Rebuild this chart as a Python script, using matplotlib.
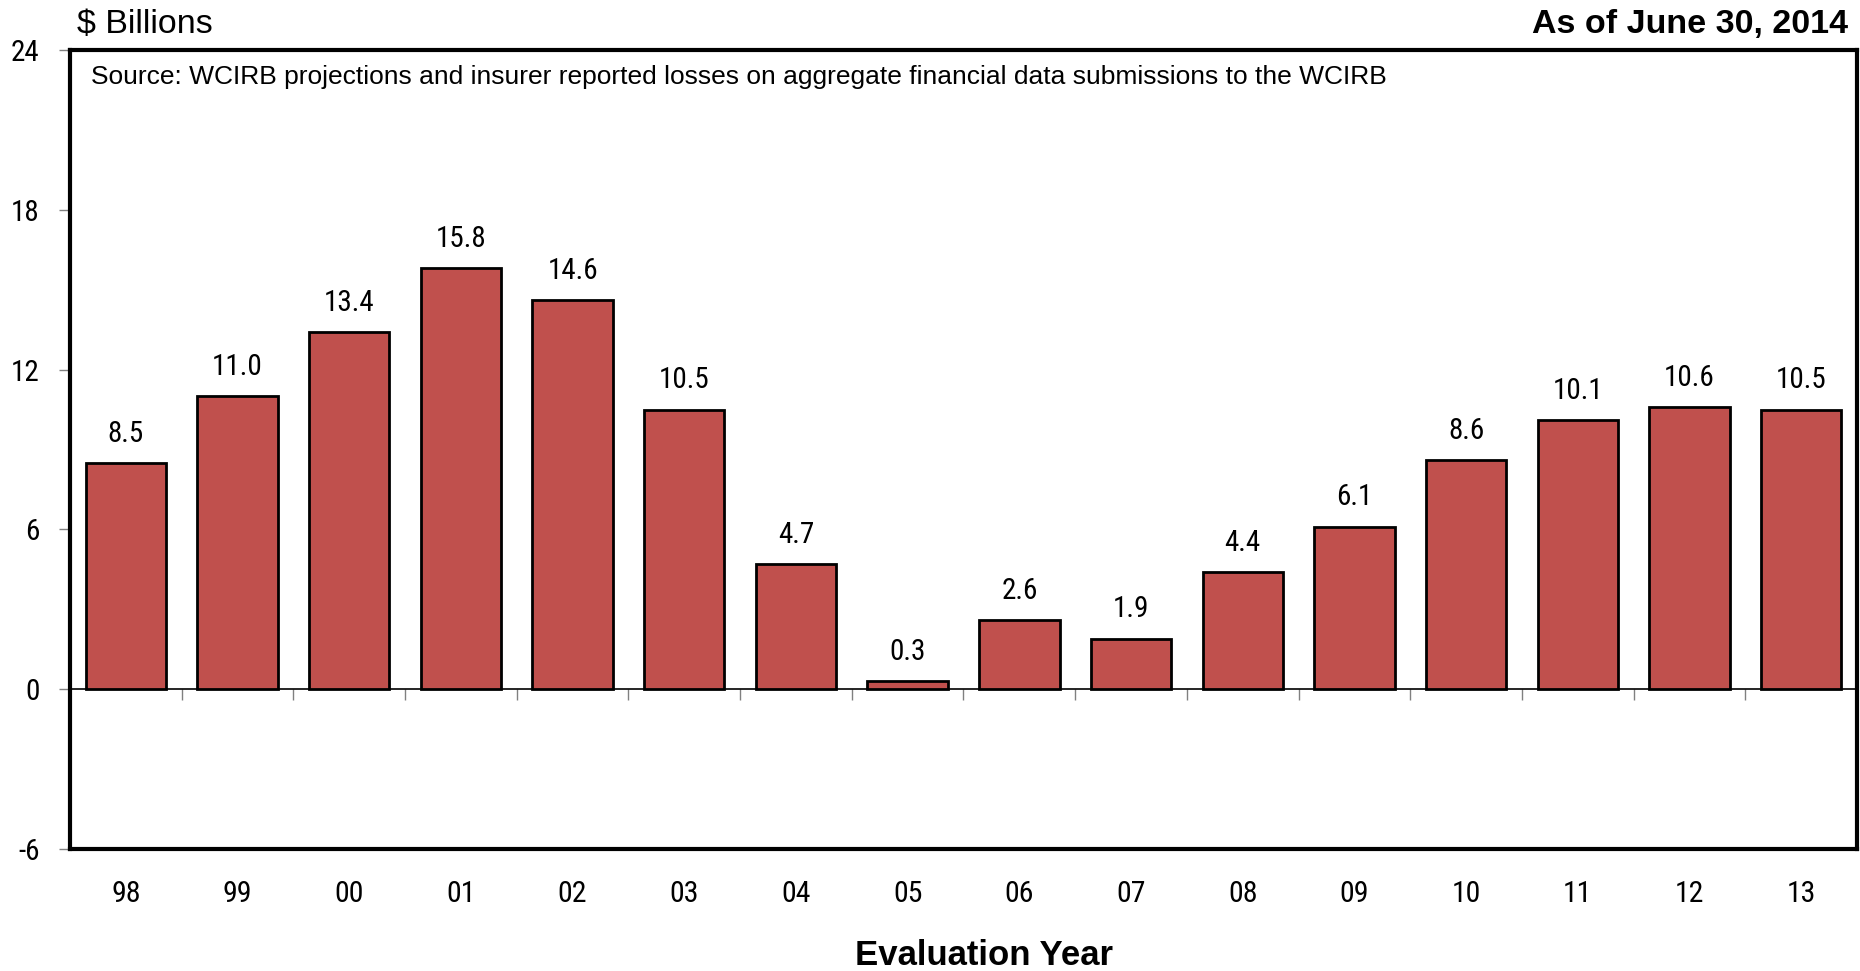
import matplotlib
matplotlib.use("Agg")
from matplotlib import pyplot as plt
from matplotlib import font_manager

# данные
years = ['98', '99', '00', '01', '02', '03', '04', '05',
         '06', '07', '08', '09', '10', '11', '12', '13']
losses = [8.5, 11.0, 13.4, 15.8, 14.6, 10.5, 4.7, 0.3,
          2.6, 1.9, 4.4, 6.1, 8.6, 10.1, 10.6, 10.5]
y_ticks = [-6, 0, 6, 12, 18, 24]

BAR_COLOR = '#C0504D'

# узкий шрифт для чисел, если найдётся
names = {f.name for f in font_manager.fontManager.ttflist}
narrow = ['DejaVu Sans']
for n in ['Liberation Sans Narrow', 'Roboto Condensed', 'Open Sans Condensed']:
    if n in names:
        narrow = [n, 'DejaVu Sans']
        break
num_font = dict(family=narrow, stretch='condensed')

plt.rcParams['font.family'] = ['Liberation Sans', 'DejaVu Sans']

fig = plt.figure(figsize=(18.6, 9.71), dpi=100)
ax = fig.add_axes([70 / 1860, 1 - 849 / 971, 1787 / 1860, 799 / 971])

x = list(range(len(years)))
ax.bar(x, losses, width=0.72, color=BAR_COLOR, edgecolor='black', linewidth=2.0, zorder=3)

for xi, v in zip(x, losses):
    ax.annotate(f'{v:.1f}', (xi, v), xytext=(0, 11), textcoords='offset points',
                ha='center', va='bottom', fontsize=21, **num_font)

ax.set_xlim(-0.5, len(years) - 0.5)
ax.set_ylim(-6, 24)
ax.set_yticks(y_ticks)
ax.set_yticklabels([str(t) for t in y_ticks], fontsize=21, **num_font)
ax.set_xticks(x)
ax.set_xticklabels(years, fontsize=21.5, **num_font)
ax.tick_params(axis='y', direction='out', length=8, width=1, color='#808080', pad=14)
ax.tick_params(axis='x', length=0, pad=22)

for s in ax.spines.values():
    s.set_linewidth(3)

# нулевая линия с делениями между категориями
zero = ax.secondary_xaxis(6 / 30)
zero.set_xticks([i + 0.5 for i in range(len(years) - 1)])
zero.tick_params(direction='out', length=8, width=1, color='#808080', labelbottom=False)
zero.spines['bottom'].set_linewidth(1.2)

fig.text(91 / 1860, 1 - 77 / 971,
         'Source: WCIRB projections and insurer reported losses on aggregate financial data submissions to the WCIRB',
         fontsize=19, va='center', ha='left')

fig.text(77 / 1860, 1 - 24 / 971, '$ Billions', fontsize=24.5, va='center', ha='left')
fig.text(1848 / 1860, 1 - 24 / 971, 'As of June 30, 2014', fontsize=24.5, fontweight='bold',
         va='center', ha='right')
fig.text(984 / 1860, 1 - 955 / 971, 'Evaluation Year', fontsize=25, fontweight='bold',
         va='center', ha='center')

fig.savefig('out.png', dpi=100)
